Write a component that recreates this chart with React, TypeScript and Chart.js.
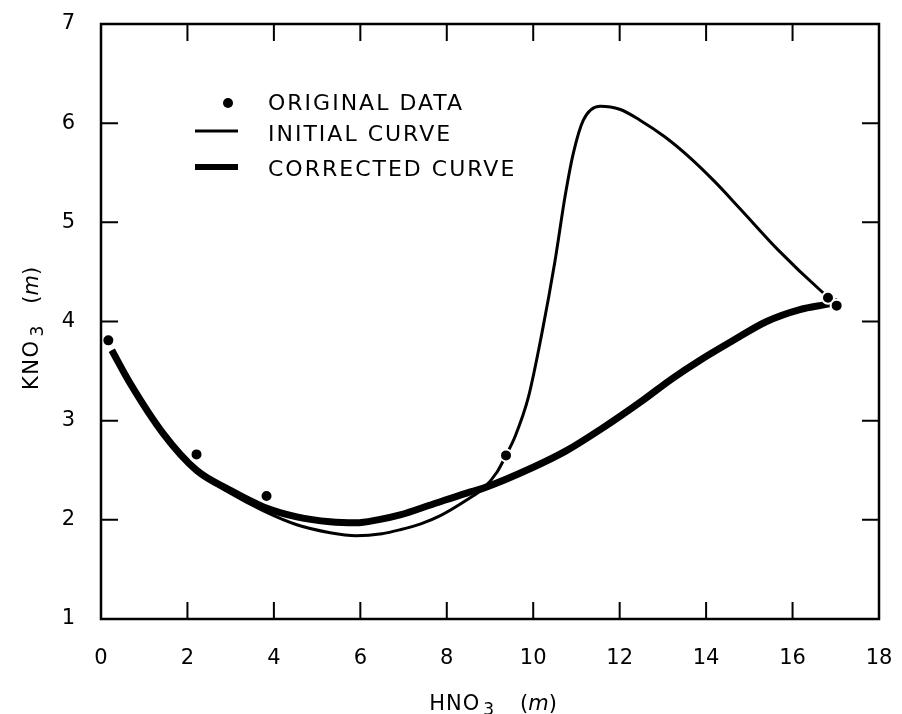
import React, { useEffect, useRef } from "react";
import { Chart, registerables } from "chart.js";

Chart.register(...registerables);

// ---- data ----
const X_MIN = 0;
const X_MAX = 18;
const X_STEP = 2;
const Y_MIN = 1;
const Y_MAX = 7;
const Y_STEP = 1;

const originalX = [0.17, 2.21, 3.83, 9.37, 16.82, 17.02];
const originalY = [3.81, 2.66, 2.24, 2.65, 4.24, 4.16];

const initialX = [0.25, 0.67, 1.44, 2.21, 2.98, 3.76, 4.53, 5.3, 5.9, 6.5, 6.92, 7.4, 7.84, 8.46, 8.85, 9.16, 9.37, 9.58, 9.89, 10.2, 10.5, 10.74, 10.93, 11.16, 11.55, 12.0, 12.47, 13.05, 13.63, 14.2, 14.78, 15.67, 16.68, 16.9];
const initialY = [3.71, 3.38, 2.87, 2.49, 2.27, 2.09, 1.95, 1.87, 1.84, 1.86, 1.9, 1.96, 2.04, 2.2, 2.32, 2.48, 2.65, 2.84, 3.24, 3.88, 4.6, 5.27, 5.7, 6.03, 6.17, 6.14, 6.03, 5.86, 5.65, 5.41, 5.14, 4.72, 4.3, 4.22];

const correctedX = [0.25, 0.67, 1.44, 2.21, 2.98, 3.76, 4.53, 5.3, 5.9, 6.4, 6.92, 7.69, 8.46, 8.85, 10.0, 10.78, 11.55, 12.55, 13.2, 13.86, 14.63, 15.4, 16.17, 16.87, 17.05];
const correctedY = [3.71, 3.38, 2.87, 2.5, 2.3, 2.13, 2.03, 1.98, 1.97, 2.0, 2.05, 2.16, 2.27, 2.32, 2.53, 2.7, 2.91, 3.21, 3.42, 3.61, 3.81, 4.0, 4.12, 4.18, 4.2];

const LEGEND_LABELS = ["ORIGINAL DATA", "INITIAL CURVE", "CORRECTED CURVE"];

const FONT = "'DejaVu Sans', 'Liberation Sans', sans-serif";

type Run = { text: string; font: string; dy?: number; gap?: number; ls?: string };

const X_TITLE: Run[] = [
  { text: "HNO", font: `21px ${FONT}`, ls: "1px" },
  { text: "3", font: `17px ${FONT}`, dy: 5, gap: 3 },
  { text: "(", font: `21px ${FONT}`, gap: 26 },
  { text: "m", font: `italic 21px ${FONT}` },
  { text: ")", font: `21px ${FONT}` },
];
const Y_TITLE: Run[] = [
  { text: "KNO", font: `21px ${FONT}`, ls: "1.5px" },
  { text: "3", font: `17px ${FONT}`, dy: 5, gap: 3 },
  { text: "(", font: `21px ${FONT}`, gap: 22 },
  { text: "m", font: `italic 21px ${FONT}` },
  { text: ")", font: `21px ${FONT}` },
];

function drawRuns(ctx: CanvasRenderingContext2D, runs: Run[], cx: number, cy: number, rotate: boolean) {
  ctx.save();
  ctx.translate(cx, cy);
  if (rotate) ctx.rotate(-Math.PI / 2);
  const anyCtx = ctx as any;
  let total = 0;
  const widths = runs.map((r) => {
    ctx.font = r.font;
    anyCtx.letterSpacing = r.ls || "0px";
    const w = ctx.measureText(r.text).width;
    total += w + (r.gap || 0);
    return w;
  });
  let x = -total / 2;
  ctx.textAlign = "left";
  ctx.textBaseline = "alphabetic";
  ctx.fillStyle = "#000";
  runs.forEach((r, i) => {
    x += r.gap || 0;
    ctx.font = r.font;
    anyCtx.letterSpacing = r.ls || "0px";
    ctx.fillText(r.text, x, r.dy || 0);
    x += widths[i];
  });
  anyCtx.letterSpacing = "0px";
  ctx.restore();
}

const framePlugin = {
  id: "frameAndExtras",
  afterDraw(chart: any) {
    const { ctx, chartArea: a, scales } = chart;
    const xs = scales.x;
    const ys = scales.y;
    ctx.save();
    ctx.strokeStyle = "#000";
    ctx.lineWidth = 2.5;
    ctx.strokeRect(a.left, a.top, a.right - a.left, a.bottom - a.top);

    const TL = 17;
    ctx.lineWidth = 2;
    ctx.beginPath();
    xs.ticks.forEach((t: any) => {
      const px = xs.getPixelForValue(t.value);
      if (px <= a.left + 1 || px >= a.right - 1) return;
      ctx.moveTo(px, a.bottom);
      ctx.lineTo(px, a.bottom - TL);
      ctx.moveTo(px, a.top);
      ctx.lineTo(px, a.top + TL);
    });
    ys.ticks.forEach((t: any) => {
      const py = ys.getPixelForValue(t.value);
      if (py <= a.top + 1 || py >= a.bottom - 1) return;
      ctx.moveTo(a.left, py);
      ctx.lineTo(a.left + TL, py);
      ctx.moveTo(a.right, py);
      ctx.lineTo(a.right - TL, py);
    });
    ctx.stroke();

    // legend
    const lx0 = a.left + 94;
    const lx1 = a.left + 137;
    const tx = a.left + 167;
    const rows = [a.top + 79, a.top + 110, a.top + 145];
    ctx.fillStyle = "#000";
    ctx.beginPath();
    ctx.arc(a.left + 127, rows[0], 5, 0, Math.PI * 2);
    ctx.fill();
    ctx.lineWidth = 3;
    ctx.beginPath();
    ctx.moveTo(lx0, rows[1] - 3);
    ctx.lineTo(lx1, rows[1] - 3);
    ctx.stroke();
    ctx.lineWidth = 6;
    ctx.beginPath();
    ctx.moveTo(lx0, rows[2] - 2);
    ctx.lineTo(lx1, rows[2] - 2);
    ctx.stroke();
    ctx.font = `22px ${FONT}`;
    (ctx as any).letterSpacing = "2px";
    ctx.textAlign = "left";
    ctx.textBaseline = "middle";
    LEGEND_LABELS.forEach((lab, i) => {
      ctx.fillText(lab, tx, rows[i] + 1);
    });
    (ctx as any).letterSpacing = "0px";
    ctx.restore();

    // axis titles
    drawRuns(ctx, X_TITLE, (a.left + a.right) / 2 + 3, 710, false);
    drawRuns(ctx, Y_TITLE, 38, (a.top + a.bottom) / 2 + 7, true);
  },
};

function toPoints(xs: number[], ys: number[]) {
  return xs.map((x, i) => ({ x, y: ys[i] }));
}

function zeroPad(s: any) {
  s.paddingTop = 0;
  s.paddingBottom = 0;
  s.paddingLeft = 0;
  s.paddingRight = 0;
}

export default function App() {
  const ref = useRef<HTMLCanvasElement | null>(null);
  useEffect(() => {
    if (!ref.current) return;
    const chart = new Chart(ref.current, {
      type: "scatter",
      data: {
        datasets: [
          {
            label: LEGEND_LABELS[0],
            data: toPoints(originalX, originalY),
            showLine: false,
            pointRadius: 6,
            pointBackgroundColor: "#000",
            pointBorderColor: "#fff",
            pointBorderWidth: 2,
            order: 0,
          },
          {
            label: LEGEND_LABELS[1],
            data: toPoints(initialX, initialY),
            showLine: true,
            pointRadius: 0,
            borderColor: "#000",
            borderWidth: 3,
            cubicInterpolationMode: "monotone",
            order: 2,
          },
          {
            label: LEGEND_LABELS[2],
            data: toPoints(correctedX, correctedY),
            showLine: true,
            pointRadius: 0,
            borderColor: "#000",
            borderWidth: 7,
            cubicInterpolationMode: "monotone",
            order: 1,
          },
        ],
      },
      options: {
        animation: false,
        responsive: false,
        devicePixelRatio: 1,
        layout: { autoPadding: false, padding: { top: 24, right: 23, left: 0, bottom: 0 } },
        plugins: { legend: { display: false }, tooltip: { enabled: false } },
        scales: {
          x: {
            type: "linear",
            min: X_MIN,
            max: X_MAX,
            ticks: { stepSize: X_STEP, color: "#000", font: { family: FONT, size: 21 }, padding: 27, maxRotation: 0 },
            grid: { display: false, drawTicks: false },
            border: { display: false },
            afterFit: (s: any) => {
              s.height = 95;
              zeroPad(s);
            },
          },
          y: {
            type: "linear",
            min: Y_MIN,
            max: Y_MAX,
            ticks: { stepSize: Y_STEP, color: "#000", font: { family: FONT, size: 21 }, padding: 26 },
            grid: { display: false, drawTicks: false },
            border: { display: false },
            afterFit: (s: any) => {
              s.width = 101;
              zeroPad(s);
            },
          },
        },
      } as any,
      plugins: [framePlugin],
    });
    return () => chart.destroy();
  }, []);
  return (
    <canvas
      ref={ref}
      width={902}
      height={714}
      style={{ position: "fixed", left: 0, top: 0, background: "#fff" }}
    />
  );
}
